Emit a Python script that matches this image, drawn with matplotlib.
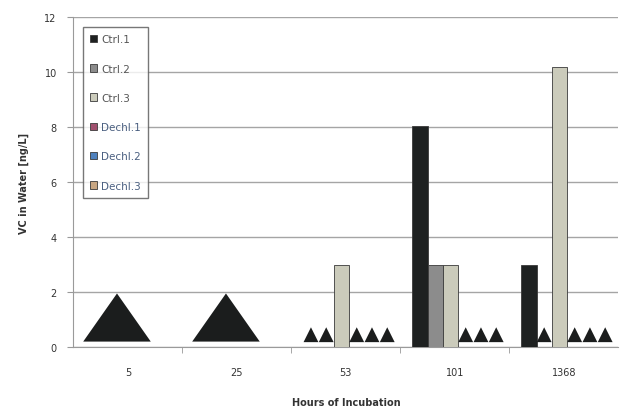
import numpy as np
import matplotlib
matplotlib.use("Agg")
import matplotlib.pyplot as plt
from matplotlib.patches import Polygon

# Incubation times (hours) and measured VC concentrations in water (ng/L)
hours = ["5", "25", "53", "101", "1368"]
series = ["Ctrl.1", "Ctrl.2", "Ctrl.3", "Dechl.1", "Dechl.2", "Dechl.3"]
ctrl1 = [0.0, 0.0, 0.0, 8.05, 3.0]
ctrl2 = [0.0, 0.0, 0.0, 3.0, 0.0]
ctrl3 = [0.0, 0.0, 3.0, 3.0, 10.2]
dechl1 = [0.0, 0.0, 0.0, 0.0, 0.0]
dechl2 = [0.0, 0.0, 0.0, 0.0, 0.0]
dechl3 = [0.0, 0.0, 0.0, 0.0, 0.0]
values = [ctrl1, ctrl2, ctrl3, dechl1, dechl2, dechl3]

# Below detection limit flags (drawn as triangles): one row per series
nd_ctrl1 = [1, 1, 1, 0, 0]
nd_ctrl2 = [1, 1, 1, 0, 1]
nd_ctrl3 = [1, 1, 0, 0, 0]
nd_dechl1 = [1, 1, 1, 1, 1]
nd_dechl2 = [1, 1, 1, 1, 1]
nd_dechl3 = [1, 1, 1, 1, 1]
nondetect = [nd_ctrl1, nd_ctrl2, nd_ctrl3, nd_dechl1, nd_dechl2, nd_dechl3]
# Time points where every sample was below detection (one large symbol)
all_nd = [1, 1, 0, 0, 0]

colors = ["#1e2121", "#8c8c8c", "#cbcbbb", "#a0506e", "#4f81bd", "#c8a682"]
edge = "#3a3a3a"
text_col = "#333333"

fig = plt.figure(figsize=(6.22, 4.10), dpi=100)
ax = fig.add_axes([0.118, 0.151, 0.876, 0.805])

x = np.arange(len(hours))
w = 0.14
shift = 0.03

for i, (name, vals) in enumerate(zip(series, values)):
    pos = x + (i - 2.5) * w + shift
    ax.bar(pos, vals, width=w, color=colors[i], edgecolor=edge,
           linewidth=0.6, label=name, zorder=3)
    for j, flag in enumerate(nondetect[i]):
        if flag and not all_nd[j]:
            cx = pos[j]
            tri = Polygon([[cx - 0.068, 0.18], [cx + 0.068, 0.18], [cx, 0.72]],
                          closed=True, facecolor="#1b1d1d", edgecolor="none",
                          zorder=4)
            ax.add_patch(tri)

for j, flag in enumerate(all_nd):
    if flag:
        cx = x[j] - 0.1
        tri = Polygon([[cx - 0.31, 0.2], [cx + 0.31, 0.2], [cx, 1.95]],
                      closed=True, facecolor="#1b1d1d", edgecolor="none",
                      zorder=4)
        ax.add_patch(tri)

ax.set_xlim(-0.5, len(hours) - 0.5)
ax.set_ylim(0, 12)
ax.set_yticks(np.arange(0, 13, 2))
ax.set_xticks(x)
ax.set_xticklabels(hours)
ax.set_xticks(np.arange(0.5, len(hours) - 0.5, 1), minor=True)
ax.tick_params(axis="x", which="major", length=0, pad=14,
               labelsize=7, labelcolor=text_col)
ax.tick_params(axis="x", which="minor", length=4, color="#999999")
ax.tick_params(axis="y", length=4, color="#999999", labelsize=7,
               labelcolor=text_col, pad=8)

ax.grid(axis="y", color="#a5a5a5", linewidth=1.0, zorder=0)
ax.set_axisbelow(True)
for s in ["top", "right"]:
    ax.spines[s].set_visible(False)
ax.spines["left"].set_color("#9a9a9a")
ax.spines["bottom"].set_color("#9a9a9a")

ax.set_ylabel("VC in Water [ng/L]", fontsize=7, color=text_col,
              fontweight="bold", labelpad=11)
ax.set_xlabel("Hours of Incubation", fontsize=7, color=text_col,
              fontweight="bold", labelpad=15)

leg = ax.legend(loc="upper left", bbox_to_anchor=(0.017, 0.97), fontsize=7.5,
                frameon=True, fancybox=False, labelspacing=1.85,
                handlelength=0.7, handleheight=0.7, handletextpad=0.35,
                borderpad=0.7, borderaxespad=0)
leg.get_frame().set_edgecolor("#555555")
leg.get_frame().set_linewidth(1.0)
for t, name in zip(leg.get_texts(), series):
    t.set_color("#4a5f80" if name.startswith("Dechl") else "#555555")

fig.savefig("out.png", dpi=100)
